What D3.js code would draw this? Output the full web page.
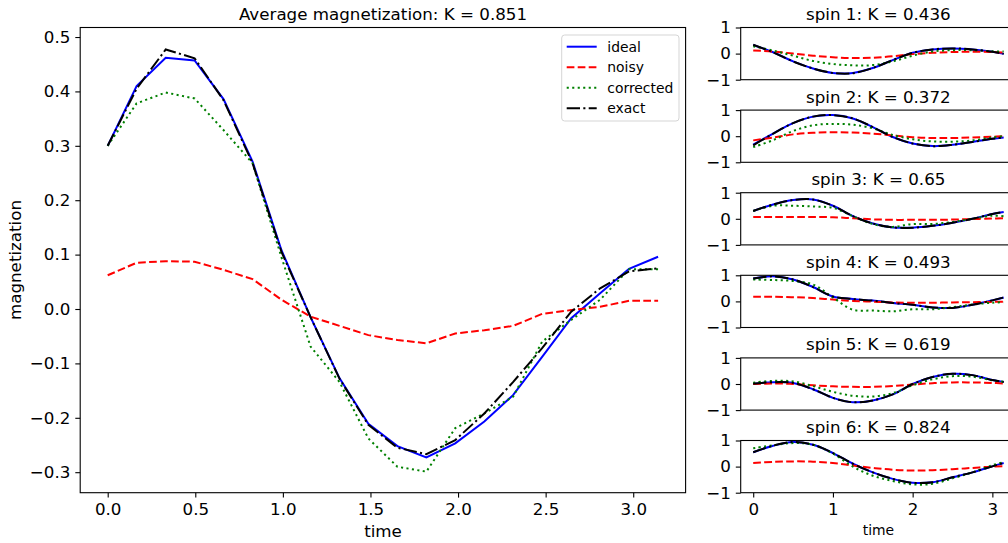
<!DOCTYPE html>
<html>
<head>
<meta charset="utf-8">
<script src="https://cdn.jsdelivr.net/npm/d3@7"></script>
<style>
  body { margin: 0; background: #fff; }
  svg { font-family: "DejaVu Sans", sans-serif; }
</style>
</head>
<body>
<svg id="chart" width="1008" height="543"></svg>
<script>
// main panel values
const time = [0, 0.165, 0.331, 0.496, 0.661, 0.827, 0.992, 1.158, 1.323, 1.488,
  1.654, 1.819, 1.984, 2.150, 2.315, 2.480, 2.646, 2.811, 2.976, 3.142]
const ideal = [0.300, 0.410, 0.462, 0.457, 0.386, 0.271, 0.108, -0.015, -0.127, -0.211,
  -0.252, -0.273, -0.247, -0.207, -0.158, -0.088, -0.017, 0.029, 0.074, 0.096]
const noisy = [0.062, 0.085, 0.088, 0.087, 0.072, 0.055, 0.017, -0.014, -0.031, -0.048,
  -0.057, -0.063, -0.045, -0.039, -0.031, -0.009, -0.002, 0.004, 0.015, 0.015]
const corrected = [0.300, 0.378, 0.398, 0.387, 0.329, 0.268, 0.095, -0.069, -0.134, -0.238,
  -0.290, -0.299, -0.219, -0.192, -0.161, -0.060, -0.020, 0.017, 0.073, 0.073]
const exact = [0.300, 0.405, 0.477, 0.461, 0.384, 0.268, 0.105, -0.015, -0.128, -0.213,
  -0.255, -0.267, -0.241, -0.192, -0.134, -0.072, -0.005, 0.038, 0.069, 0.075]
const mainTitle = 'Average magnetization: K = 0.851'
const mainXTicks = [0, 0.5, 1, 1.5, 2, 2.5, 3]
const mainYTicks = [-0.3, -0.2, -0.1, 0, 0.1, 0.2, 0.3, 0.4, 0.5]

// per-spin panels
const spinTime = [0, 0.25, 0.5, 0.75, 1, 1.25, 1.5, 1.75, 2, 2.25, 2.5, 2.75, 3, 3.142]
const spinTitles = ['spin 1: K = 0.436', 'spin 2: K = 0.372', 'spin 3: K = 0.65',
  'spin 4: K = 0.493', 'spin 5: K = 0.619', 'spin 6: K = 0.824']
const spinIdeal = [
  [0.33, 0.05, -0.30, -0.57, -0.74, -0.74, -0.55, -0.25, 0.03, 0.16, 0.20, 0.16, 0.07, -0.01],
  [-0.32, 0.10, 0.50, 0.75, 0.81, 0.68, 0.35, -0.03, -0.28, -0.38, -0.33, -0.22, -0.10, -0.05],
  [0.30, 0.55, 0.72, 0.74, 0.50, 0.10, -0.18, -0.33, -0.34, -0.27, -0.15, 0.00, 0.18, 0.26],
  [0.88, 0.96, 0.84, 0.55, 0.19, 0.09, 0.03, -0.06, -0.13, -0.23, -0.25, -0.13, 0.04, 0.15],
  [0.01, 0.07, 0.04, -0.20, -0.53, -0.70, -0.63, -0.40, 0.00, 0.27, 0.39, 0.34, 0.15, 0.08],
  [0.55, 0.80, 0.94, 0.84, 0.52, 0.11, -0.22, -0.47, -0.62, -0.60, -0.41, -0.22, 0.01, 0.14]
]
const spinNoisy = [
  [0.12, 0.08, 0.00, -0.08, -0.14, -0.17, -0.16, -0.10, -0.02, 0.03, 0.06, 0.07, 0.06, 0.04],
  [-0.16, -0.05, 0.07, 0.13, 0.15, 0.14, 0.10, 0.03, -0.04, -0.07, -0.07, -0.05, -0.02, 0.00],
  [0.065, 0.07, 0.07, 0.07, 0.06, 0.02, -0.02, -0.04, -0.04, -0.04, -0.03, -0.01, 0.01, 0.02],
  [0.18, 0.18, 0.16, 0.13, 0.07, 0.02, -0.01, -0.04, -0.05, -0.05, -0.04, -0.03, -0.02, -0.01],
  [0.00, 0.02, 0.00, -0.05, -0.09, -0.11, -0.11, -0.08, -0.02, 0.03, 0.06, 0.06, 0.04, 0.02],
  [0.14, 0.18, 0.20, 0.19, 0.14, 0.04, -0.05, -0.12, -0.15, -0.14, -0.10, -0.05, 0.00, 0.01]
]
const spinCorrected = [
  [0.28, 0.12, -0.08, -0.28, -0.40, -0.45, -0.44, -0.30, -0.08, 0.08, 0.13, 0.13, 0.09, 0.08],
  [-0.42, -0.15, 0.20, 0.42, 0.47, 0.44, 0.30, 0.05, -0.12, -0.20, -0.21, -0.16, -0.05, 0.00],
  [0.30, 0.50, 0.50, 0.47, 0.42, 0.10, -0.20, -0.31, -0.20, -0.20, -0.12, 0.00, 0.12, 0.10],
  [0.84, 0.82, 0.78, 0.65, 0.15, -0.32, -0.35, -0.38, -0.30, -0.30, -0.22, -0.12, -0.05, -0.03],
  [0.05, 0.12, 0.10, -0.08, -0.30, -0.45, -0.48, -0.35, -0.05, 0.18, 0.30, 0.28, 0.14, 0.08],
  [0.70, 0.82, 0.90, 0.84, 0.50, 0.00, -0.35, -0.55, -0.68, -0.66, -0.45, -0.22, 0.05, 0.17]
]
const spinExact = [
  [0.34, 0.05, -0.30, -0.57, -0.74, -0.75, -0.55, -0.25, 0.03, 0.16, 0.20, 0.16, 0.07, -0.01],
  [-0.35, 0.10, 0.50, 0.75, 0.81, 0.68, 0.35, -0.03, -0.28, -0.38, -0.33, -0.22, -0.10, -0.05],
  [0.30, 0.55, 0.72, 0.74, 0.50, 0.10, -0.18, -0.33, -0.34, -0.27, -0.15, 0.00, 0.18, 0.26],
  [0.88, 0.96, 0.84, 0.55, 0.19, 0.09, 0.03, -0.06, -0.13, -0.23, -0.25, -0.13, 0.04, 0.15],
  [0.01, 0.07, 0.04, -0.20, -0.53, -0.70, -0.63, -0.40, 0.00, 0.27, 0.39, 0.34, 0.15, 0.08],
  [0.55, 0.80, 0.94, 0.84, 0.52, 0.11, -0.22, -0.47, -0.62, -0.60, -0.41, -0.22, 0.01, 0.14]
]
const spinYTicks = [-1, 0, 1]
const spinXTicks = [0, 1, 2, 3]

const seriesNames = ['ideal', 'noisy', 'corrected', 'exact']
const styles = {
  ideal: { color: '#0000ff', dash: null },
  noisy: { color: '#ff0000', dash: '7.7,3.3' },
  corrected: { color: '#008000', dash: '2.1,3.4' },
  exact: { color: '#000000', dash: '13.3,3.3,2.1,3.3' }
}

const FS = 16.7   // ticks, titles, axis labels
const FS_SMALL = 13.9   // legend, spin x label

const svg = d3.select('#chart')
const fmtMinus = s => s.replace('-', '\u2212')

// ---- main panel
const mx = d3.scaleLinear().domain([-0.157, 3.299]).range([80.2, 685.6])
const my = d3.scaleLinear().domain([-0.3377, 0.5175]).range([492.7, 27.5])

const main = svg.append('g')
const mainLine = ys => d3.line().x((d, i) => mx(time[i])).y(d => my(d))(ys)
const mainData = { ideal, noisy, corrected, exact }

main.append('g')
  .selectAll('path')
  .data(seriesNames)
  .enter().append('path')
  .attr('d', k => mainLine(mainData[k]))
  .attr('fill', 'none')
  .attr('stroke', k => styles[k].color)
  .attr('stroke-width', 2)
  .attr('stroke-dasharray', k => styles[k].dash)

const xAxis = d3.axisBottom(mx).tickValues(mainXTicks).tickFormat(d3.format('.1f'))
  .tickSizeOuter(0).tickSize(4.9).tickPadding(5.5)
const yAxis = d3.axisLeft(my).tickValues(mainYTicks).tickFormat(d => fmtMinus(d3.format('.1f')(d)))
  .tickSizeOuter(0).tickSize(4.9).tickPadding(4.9)

main.append('g').attr('transform', 'translate(0,492.7)').call(xAxis)
main.append('g').attr('transform', 'translate(80.2,0)').call(yAxis)
main.selectAll('.domain').remove()
main.selectAll('.tick text').attr('font-size', FS).attr('fill', '#000')
  .attr('font-family', '"DejaVu Sans", sans-serif')
main.selectAll('.tick line').attr('stroke', '#000').attr('stroke-width', 1.1)

main.append('rect')
  .attr('x', 80.2).attr('y', 27.5)
  .attr('width', 685.6 - 80.2).attr('height', 492.7 - 27.5)
  .attr('fill', 'none').attr('stroke', '#000').attr('stroke-width', 1.1)

main.append('text').attr('x', 383).attr('y', 20).attr('text-anchor', 'middle')
  .attr('font-size', FS).text(mainTitle)
main.append('text').attr('x', 383).attr('y', 537).attr('text-anchor', 'middle')
  .attr('font-size', FS).text('time')
main.append('text')
  .attr('transform', 'translate(21,260) rotate(-90)')
  .attr('text-anchor', 'middle').attr('font-size', FS).text('magnetization')

// legend
const legend = main.append('g')
legend.append('rect')
  .attr('x', 561.7).attr('y', 35).attr('width', 117.3).attr('height', 86)
  .attr('rx', 3).attr('fill', '#fff').attr('fill-opacity', 0.8)
  .attr('stroke', '#d5d5d5').attr('stroke-width', 1)
seriesNames.forEach((k, i) => {
  const y = 46.7 + i * 20.5
  legend.append('line').attr('x1', 566.7).attr('x2', 596.7).attr('y1', y).attr('y2', y)
    .attr('stroke', styles[k].color).attr('stroke-width', 2)
    .attr('stroke-dasharray', styles[k].dash)
  legend.append('text').attr('x', 607.3).attr('y', y + 5)
    .attr('font-size', FS_SMALL).text(k)
})

// ---- spin panels
const sx = d3.scaleLinear().domain([-0.157, 3.299]).range([740.7, 1016.2])
const panelH = 52.2
const panelStep = 82.6

spinTitles.forEach((title, s) => {
  const top = 27.5 + s * panelStep
  const sy = d3.scaleLinear().domain([-1, 1]).range([top + panelH, top])
  const g = svg.append('g')
  const data = {
    ideal: spinIdeal[s], noisy: spinNoisy[s],
    corrected: spinCorrected[s], exact: spinExact[s]
  }
  const line = d3.line().curve(d3.curveCatmullRom.alpha(0.5))
    .x((d, i) => sx(spinTime[i])).y(d => sy(d))

  g.selectAll('path.series')
    .data(seriesNames)
    .enter().append('path')
    .attr('class', 'series')
    .attr('d', k => line(data[k]))
    .attr('fill', 'none')
    .attr('stroke', k => styles[k].color)
    .attr('stroke-width', 2)
    .attr('stroke-dasharray', k => styles[k].dash)

  const ya = d3.axisLeft(sy).tickValues(spinYTicks).tickFormat(d => fmtMinus(String(d)))
    .tickSizeOuter(0).tickSize(4.9).tickPadding(4.9)
  g.append('g').attr('transform', 'translate(740.7,0)').call(ya)

  if (s === spinTitles.length - 1) {
    const xa = d3.axisBottom(sx).tickValues(spinXTicks).tickFormat(d3.format('d'))
      .tickSizeOuter(0).tickSize(4.9).tickPadding(5.5)
    g.append('g').attr('transform', `translate(0,${top + panelH})`).call(xa)
    g.append('text').attr('x', 878.4).attr('y', 535).attr('text-anchor', 'middle')
      .attr('font-size', FS_SMALL).text('time')
  }
  g.selectAll('.domain').remove()
  g.selectAll('.tick text').attr('font-size', FS).attr('fill', '#000')
    .attr('font-family', '"DejaVu Sans", sans-serif')
  g.selectAll('.tick line').attr('stroke', '#000').attr('stroke-width', 1.1)

  g.append('rect')
    .attr('x', 740.7).attr('y', top)
    .attr('width', 1016.2 - 740.7).attr('height', panelH)
    .attr('fill', 'none').attr('stroke', '#000').attr('stroke-width', 1.1)

  g.append('text').attr('x', 878.4).attr('y', top - 7.5).attr('text-anchor', 'middle')
    .attr('font-size', FS).text(title)
})
</script>
</body>
</html>
